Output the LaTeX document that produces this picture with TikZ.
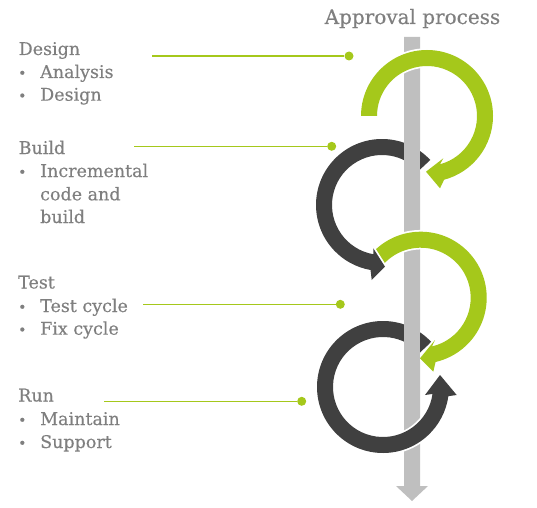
\documentclass[tikz,border=0pt]{standalone}
\usepackage{fontspec}
\setmainfont[FakeBold=0.35]{DejaVu Serif}
\definecolor{grn}{HTML}{A5C81B}
\definecolor{drk}{HTML}{404040}
\definecolor{barc}{HTML}{BFBFBF}
\definecolor{txtc}{HTML}{7F7F7F}
\begin{document}
\begin{tikzpicture}[x=1pt,y=1pt,
  ring/.style={preaction={draw=white,line width=3.5pt,line join=miter}},
  gline/.style={draw=grn,line width=1.1pt},
  dot/.style={circle,fill=grn,inner sep=0pt,minimum size=9pt},
  hd/.style={font=\fontsize{17.5}{21}\selectfont,text=txtc,inner sep=0pt,anchor=base west},
  it/.style={font=\fontsize{17.5}{21}\selectfont,text=txtc,inner sep=0pt,anchor=base west},
  bul/.style={font=\fontsize{14}{16}\selectfont,text=txtc,inner sep=0pt,anchor=base}]
\useasboundingbox (0,0) rectangle (537,507);
% centres
\coordinate (G1) at (427,391);
\coordinate (G2) at (420.7,209.3);
\coordinate (D1) at (382,302);
\coordinate (D2) at (383,120);
% bar
\fill[barc] (404,470) -- (420,470) -- (420,21) -- (428,21) -- (412,6) -- (396,21) -- (404,21) -- cycle;
% dark 2
\coordinate (d2i) at (425,112);
\coordinate (d2t) at (440,132);
\coordinate (d2o) at (456.7,112);
\path[ring,fill=drk] ([shift={(43:66pt)}]D2) arc[start angle=43,end angle=352,radius=66pt]
  -- (d2o) -- (d2t) -- (d2i) -- ([shift={(352:50pt)}]D2) arc[start angle=352,end angle=43,radius=50pt] -- cycle;
% green 2
\coordinate (g2i) at (435,167);
\coordinate (g2t) at (420,148.7);
\coordinate (g2o) at (433.3,135.3);
\path[ring,fill=grn] ([shift={(138:66pt)}]G2) arc[start angle=138,end angle=-77,radius=66pt]
  -- (g2o) -- (g2t) -- (g2i) -- ([shift={(-77:50pt)}]G2) arc[start angle=-77,end angle=138,radius=50pt] -- cycle;
% dark 1
\coordinate (d1i) at (373.3,258.7);
\coordinate (d1t) at (385,240.3);
\coordinate (d1o) at (371.7,227);
\path[ring,fill=drk] ([shift={(43:66pt)}]D1) arc[start angle=43,end angle=260,radius=66pt]
  -- (d1o) -- (d1t) -- (d1i) -- ([shift={(260:50pt)}]D1) arc[start angle=260,end angle=43,radius=50pt] -- cycle;
% green 1
\coordinate (g1i) at (443.3,348.7);
\coordinate (g1t) at (426,335.3);
\coordinate (g1o) at (440,318.7);
\path[ring,fill=grn] ([shift={(180:66pt)}]G1) arc[start angle=180,end angle=-75,radius=66pt]
  -- (g1o) -- (g1t) -- (g1i) -- ([shift={(-75:50pt)}]G1) arc[start angle=-75,end angle=180,radius=50pt] -- cycle;
% bar over the dark rings
\fill[barc] (404,330) rectangle (420,373);
\fill[barc] (404,146) rectangle (420,190);
% title
\node[font=\fontsize{20}{24}\selectfont,text=txtc,inner sep=0pt,anchor=base] (title) at (412.5,483) {Approval process};
% connectors
\coordinate (l1) at (152,451);
\coordinate (l2) at (134,360.7);
\coordinate (l3) at (143.3,202.7);
\coordinate (l4) at (104,105.7);
\node[dot] (p1) at (349,451) {};
\node[dot] (p2) at (331.7,360.7) {};
\node[dot] (p3) at (340.3,202.7) {};
\node[dot] (p4) at (301.7,105.7) {};
\draw[gline] (l1) -- (p1);
\draw[gline] (l2) -- (p2);
\draw[gline] (l3) -- (p3);
\draw[gline] (l4) -- (p4);
% texts
\node[hd] (h1) at (18.5,452) {Design};
\node[bul] (b11) at (22.3,429) {•};
\node[it] (t11) at (40,429) {Analysis};
\node[bul] (b12) at (22.3,406.3) {•};
\node[it] (t12) at (40,406.3) {Design};
\node[hd] (h2) at (18.5,353) {Build};
\node[bul] (b21) at (22.3,330) {•};
\node[it] (t21) at (40,330) {Incremental};
\node[it] (t22) at (40,306.7) {code and};
\node[it] (t23) at (40,284) {build};
\node[hd] (h3) at (18,218.5) {Test};
\node[bul] (b31) at (22.3,195) {•};
\node[it] (t31) at (40,195) {Test cycle};
\node[bul] (b32) at (22.3,172.3) {•};
\node[it] (t32) at (40,172.3) {Fix cycle};
\node[hd] (h4) at (18,105.5) {Run};
\node[bul] (b41) at (22.3,82) {•};
\node[it] (t41) at (40,82) {Maintain};
\node[bul] (b42) at (22.3,59) {•};
\node[it] (t42) at (40,59) {Support};
\end{tikzpicture}
\end{document}
